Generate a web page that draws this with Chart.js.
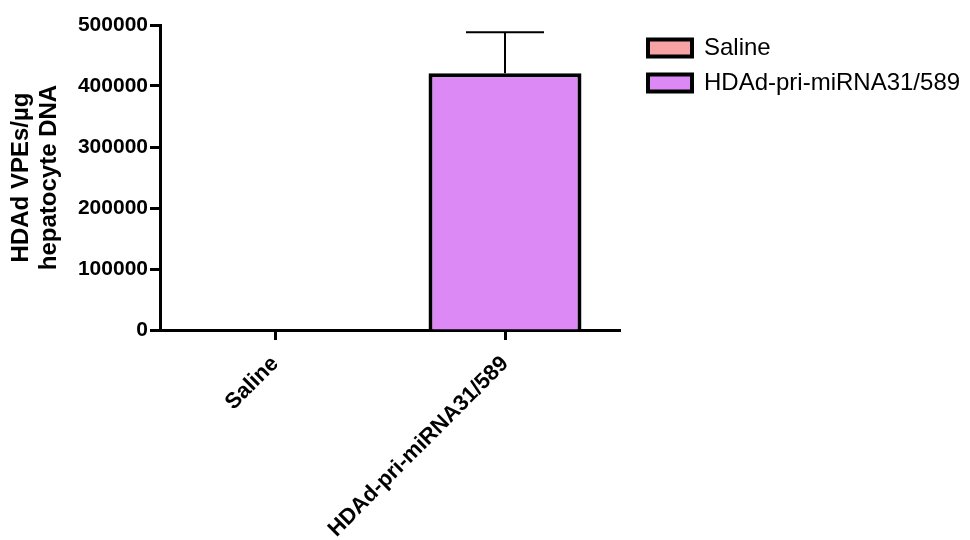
<!DOCTYPE html>
<html>
<head>
<meta charset="utf-8">
<script src="https://cdn.jsdelivr.net/npm/chart.js@4/dist/chart.umd.min.js"></script>
<style>
  html, body { margin: 0; padding: 0; background: #ffffff; }
  #wrap { width: 970px; height: 540px; }
</style>
</head>
<body>
<div id="wrap"><canvas id="chart" width="970" height="540"></canvas></div>
<script>
// Groups along the x axis
const categories = ['Saline', 'HDAd-pri-miRNA31/589'];
// Mean HDAd vector genome copies per µg hepatocyte DNA
const salineValues = [0, null];
const hdadValues = [null, 421000];
// Upward error (SEM) for each group
const errors = [0, 67000];
// Y tick values
const yTicks = [0, 100000, 200000, 300000, 400000, 500000];

const FONT = "'Liberation Sans', Arial, Helvetica, sans-serif";

// Draws GraphPad-style upward error bars with a cap
const errorBars = {
  id: 'errorBars',
  afterDatasetsDraw(chart) {
    const ctx = chart.ctx;
    const y = chart.scales.y;
    ctx.save();
    ctx.strokeStyle = '#000';
    ctx.lineWidth = 2;
    chart.data.datasets.forEach((ds, di) => {
      const meta = chart.getDatasetMeta(di);
      ds.data.forEach((v, i) => {
        if (v === null || !errors[i]) return;
        const bar = meta.data[i];
        const x = bar.x;
        const yTop = y.getPixelForValue(v + errors[i]);
        const yVal = y.getPixelForValue(v);
        const cap = bar.width * 0.255;
        ctx.beginPath();
        ctx.moveTo(x, yVal);
        ctx.lineTo(x, yTop);
        ctx.moveTo(x - cap, yTop);
        ctx.lineTo(x + cap, yTop);
        ctx.stroke();
      });
    });
    ctx.restore();
  }
};

// Gives the right-hand legend a wide column and a small gap from the plot
const legendColumn = {
  id: 'legendColumn',
  afterInit(chart) {
    const lg = chart.legend;
    const fit = lg.fit.bind(lg);
    lg.fit = function () { fit(); this.width = 350; };
  },
  afterLayout(chart) {
    chart.legend.left += 17;
    chart.legend.right += 17;
  }
};

new Chart(document.getElementById('chart'), {
  type: 'bar',
  data: {
    labels: categories,
    datasets: [
      {
        label: 'Saline',
        data: salineValues,
        backgroundColor: '#F7A2A4',
        borderColor: '#000',
        borderWidth: 4,
        skipNull: true,
        categoryPercentage: 0.665,
        barPercentage: 1
      },
      {
        label: 'HDAd-pri-miRNA31/589',
        data: hdadValues,
        backgroundColor: '#DC88F5',
        borderColor: '#000',
        borderWidth: 4,
        skipNull: true,
        categoryPercentage: 0.665,
        barPercentage: 1
      }
    ]
  },
  options: {
    responsive: false,
    animation: false,
    devicePixelRatio: 1,
    layout: { padding: { top: 25, right: 0, left: 0, bottom: 0 } },
    plugins: {
      tooltip: { enabled: false },
      legend: {
        position: 'right',
        align: 'start',
        labels: {
          color: '#000',
          font: { family: FONT, size: 24 },
          boxWidth: 44,
          boxHeight: 17,
          padding: 11
        }
      }
    },
    scales: {
      x: {
        offset: true,
        grid: {
          display: true,
          offset: false,
          drawOnChartArea: false,
          drawTicks: true,
          tickLength: 10,
          tickWidth: 3,
          tickColor: '#000'
        },
        border: { display: true, color: '#000', width: 3 },
        ticks: {
          color: '#000',
          font: { family: FONT, size: 22, weight: 'bold' },
          minRotation: 45,
          maxRotation: 45,
          padding: 11
        },
        afterFit(scale) { scale.height = 210; }
      },
      y: {
        min: 0,
        max: 500000,
        afterBuildTicks(scale) { scale.ticks = yTicks.map(v => ({ value: v })); },
        grid: {
          display: true,
          drawOnChartArea: false,
          drawTicks: true,
          tickLength: 10,
          tickWidth: 3,
          tickColor: '#000'
        },
        border: { display: true, color: '#000', width: 3 },
        ticks: {
          color: '#000',
          font: { family: FONT, size: 21, weight: 'bold' },
          padding: 2,
          callback: v => String(v)
        },
        title: {
          display: true,
          text: ['HDAd VPEs/µg', 'hepatocyte DNA'],
          color: '#000',
          font: { family: FONT, size: 24, weight: 'bold', lineHeight: 1.17 },
          padding: { top: 7, bottom: 0 }
        },
        afterFit(scale) { scale.width = 160; }
      }
    }
  },
  plugins: [errorBars, legendColumn]
});
</script>
</body>
</html>
